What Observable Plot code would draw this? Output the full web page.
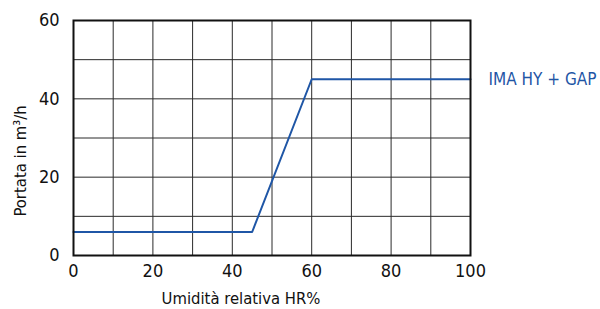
<!DOCTYPE html>
<html>
<head>
<meta charset="utf-8">
<script src="https://cdn.jsdelivr.net/npm/d3@7"></script>
<script src="https://cdn.jsdelivr.net/npm/@observablehq/plot@0.6"></script>
<style>
  html, body { margin: 0; padding: 0; background: #fff; }
  #chart svg { display: block; }
  #chart svg text { font-stretch: condensed; }
</style>
</head>
<body>
<div id="chart"></div>
<script>
const humidity = [0, 45, 60, 100];
const flow = [6, 6, 45, 45];
const seriesName = "IMA HY + GAP";
const xTickLabels = [0, 20, 40, 60, 80, 100];
const yTickLabels = [0, 20, 40, 60];
const gridX = d3.range(0, 101, 10);
const gridY = d3.range(0, 61, 10);
const xTitle = "Umidità relativa HR%";
const yTitle = "Portata in m³/h";

const data = humidity.map((h, i) => ({h, f: flow[i]}));
const font = "'DejaVu Sans Condensed', 'DejaVu Sans', sans-serif";
const blue = "#1f56a6";

const chart = Plot.plot({
  width: 600,
  height: 309,
  marginLeft: 73,
  marginRight: 130,
  marginTop: 20,
  marginBottom: 54,
  style: {fontFamily: font, fontSize: "17px", color: "#111", background: "#fff"},
  x: {domain: [0, 100]},
  y: {domain: [0, 60]},
  marks: [
    Plot.ruleX(gridX, {stroke: "#2a2a2a", strokeWidth: 1}),
    Plot.ruleY(gridY, {stroke: "#2a2a2a", strokeWidth: 1}),
    Plot.axisX(xTickLabels, {tickSize: 0, tickPadding: 9, label: null, fontSize: 18}),
    Plot.axisY(yTickLabels, {tickSize: 0, tickPadding: 14, label: null, fontSize: 18}),
    Plot.line(data, {x: "h", y: "f", stroke: blue, strokeWidth: 2}),
    Plot.text([data[data.length - 1]], {x: "h", y: "f", text: () => seriesName, textAnchor: "start", dx: 18, fill: blue, fontSize: 17}),
    Plot.text([xTitle], {frameAnchor: "bottom", text: d => d, dy: 48, dx: -31, fontSize: 16.5}),
    Plot.text([yTitle], {frameAnchor: "left", textAnchor: "middle", text: d => d, rotate: -90, dx: -53, dy: 23, fontSize: 16.5}),
    Plot.frame({stroke: "#111", strokeWidth: 2})
  ]
});
document.getElementById("chart").appendChild(chart);
</script>
</body>
</html>
